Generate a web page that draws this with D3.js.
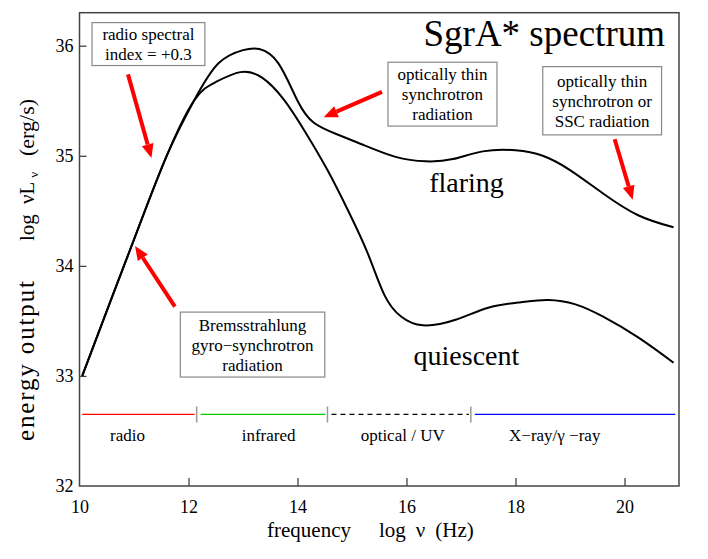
<!DOCTYPE html>
<html><head><meta charset="utf-8">
<script src="https://cdn.jsdelivr.net/npm/d3@7"></script>
<style>
html,body{margin:0;padding:0;background:#fff;}
svg{display:block;}
</style></head>
<body><svg id="chart" width="708" height="559" font-family="Liberation Serif, serif"></svg>
<script>
// ---- data ----
const xTicks = [10, 12, 14, 16, 18, 20];
const yTicks = [32, 33, 34, 35, 36];
const flaringFreq = [10.05, 10.6, 11.1, 11.6, 12.1, 12.55, 13.0, 13.3, 13.65, 14.0, 14.3, 14.7, 15.2, 15.8, 16.35, 16.85, 17.4, 18.0, 18.5, 19.0, 19.6, 20.25, 20.9];
const flaringLum  = [33.0, 33.72, 34.37, 35.0, 35.5, 35.84, 35.96, 35.97, 35.84, 35.5, 35.3, 35.2, 35.1, 34.99, 34.95, 34.97, 35.04, 35.05, 35.0, 34.87, 34.66, 34.46, 34.35];
const quiescentFreq = [10.05, 10.6, 11.1, 11.6, 12.1, 12.5, 12.95, 13.35, 13.75, 14.15, 14.55, 14.95, 15.3, 15.6, 15.9, 16.3, 16.9, 17.5, 18.1, 18.6, 19.1, 19.6, 20.25, 20.9];
const quiescentLum  = [33.0, 33.72, 34.37, 35.0, 35.5, 35.67, 35.76, 35.71, 35.51, 35.21, 34.87, 34.48, 34.1, 33.73, 33.54, 33.46, 33.51, 33.62, 33.67, 33.69, 33.65, 33.54, 33.35, 33.12];
const bandNames  = ["radio", "infrared", "optical / UV", "X\u2212ray/\u03b3 \u2212ray"];
const bandStart  = [10.05, 12.15, 14.55, 17.18];
const bandEnd    = [12.15, 14.55, 17.18, 20.93];
const bandLabelAt = [10.88, 13.47, 15.93, 18.72];
const bandColors = ["#ff0000", "#00cc00", "#000000", "#0000ff"];
const bandDashed = [false, false, true, false];
const bandLevel = 32.65;
const curveLabels = [{text: "flaring", x: 17.1, y: 34.67}, {text: "quiescent", x: 17.1, y: 33.1}];
const notes = [
  {lines: ["radio spectral", "index = +0.3"], box: [10.23, 36.21, 12.3, 35.82], from: [10.89, 35.74], to: [11.32, 34.98]},
  {lines: ["optically thin", "synchrotron", "radiation"], box: [15.66, 35.85, 17.66, 35.27], from: [15.55, 35.58], to: [14.48, 35.35]},
  {lines: ["optically thin", "synchrotron or", "SSC radiation"], box: [18.5, 35.81, 20.68, 35.19], from: [19.82, 35.15], to: [20.15, 34.6]},
  {lines: ["Bremsstrahlung", "gyro\u2212synchrotron", "radiation"], box: [11.85, 33.58, 14.5, 32.99], from: [11.75, 33.63], to: [11.02, 34.18]}
];

// ---- layout ----
const svg = d3.select("#chart");
const FONT = "Liberation Serif";
const L = 79.5, R = 679, T = 12.7, B = 486;
const x = d3.scaleLinear().domain([10, 21]).range([L, R]);
const y = d3.scaleLinear().domain([32, 36.3]).range([B, T]);
const axisColor = "#444";

// frame
svg.append("rect").attr("x", L).attr("y", T).attr("width", R - L).attr("height", B - T)
  .attr("fill", "none").attr("stroke", axisColor).attr("stroke-width", 1.5);

// axes (inside ticks)
const gx = svg.append("g").attr("transform", `translate(0,${B})`)
  .call(d3.axisBottom(x).tickValues(xTicks).tickSize(-8).tickPadding(14).tickFormat(d3.format("d")));
const gy = svg.append("g").attr("transform", `translate(${L},0)`)
  .call(d3.axisLeft(y).tickValues(yTicks).tickSize(-7).tickPadding(6).tickFormat(d3.format("d")));
[gx, gy].forEach(g => {
  g.attr("font-family", FONT);
  g.select(".domain").remove();
  g.selectAll(".tick line").attr("stroke", axisColor).attr("stroke-width", 1.3);
  g.selectAll(".tick text").attr("font-family", FONT).attr("font-size", 18).attr("fill", "#000");
});
gx.selectAll(".tick text").attr("dy", "0.71em");
gy.selectAll(".tick").filter(d => d === 32).select("line").remove();
gx.selectAll(".tick").filter(d => d === 10).select("line").remove();

function txt(xp, yp, s, size, anchor) {
  return svg.append("text").attr("x", xp).attr("y", yp).attr("font-family", FONT)
    .attr("font-size", size).attr("text-anchor", anchor || "start").attr("fill", "#000").text(s);
}

// curves
const line = d3.line().x(d => x(d[0])).y(d => y(d[1])).curve(d3.curveNatural);
svg.append("path").datum(flaringFreq.map((f, i) => [f, flaringLum[i]]))
  .attr("d", line).attr("fill", "none").attr("stroke", "#000").attr("stroke-width", 2);
svg.append("path").datum(quiescentFreq.map((f, i) => [f, quiescentLum[i]]))
  .attr("d", line).attr("fill", "none").attr("stroke", "#000").attr("stroke-width", 2);

// bands
const by = y(bandLevel);
bandNames.forEach((n, i) => {
  const x0 = x(bandStart[i]) + (i === 0 ? 0 : 4), x1 = x(bandEnd[i]) - (i === 3 ? 0 : 2);
  svg.append("line").attr("x1", x0).attr("x2", x1).attr("y1", by).attr("y2", by)
    .attr("stroke", bandColors[i]).attr("stroke-width", 1.2)
    .attr("stroke-dasharray", bandDashed[i] ? "5,4" : null);
  txt(x(bandLabelAt[i]), by + 27, n, 17, "middle");
  if (i < 3) {
    svg.append("line").attr("x1", x(bandEnd[i])).attr("x2", x(bandEnd[i]))
      .attr("y1", by - 8).attr("y2", by + 8).attr("stroke", "#999").attr("stroke-width", 1.5);
  }
});

// curve labels
curveLabels.forEach(c => txt(x(c.x), y(c.y), c.text, 28, "middle"));

// title
txt(665, 46, "SgrA* spectrum", 37, "end");

// annotations
notes.forEach(n => {
  const bx0 = x(n.box[0]), by0 = y(n.box[1]), bx1 = x(n.box[2]), by1 = y(n.box[3]);
  svg.append("rect").attr("x", bx0).attr("y", by0).attr("width", bx1 - bx0).attr("height", by1 - by0)
    .attr("fill", "#fff").attr("stroke", "#888").attr("stroke-width", 1.2);
  const cx = (bx0 + bx1) / 2;
  const lh = 20;
  const top = (by0 + by1) / 2 - (n.lines.length - 1) * lh / 2 + 6;
  n.lines.forEach((t, k) => txt(cx, top + k * lh, t, 17, "middle"));
  const fx = x(n.from[0]), fy = y(n.from[1]), tx = x(n.to[0]), ty = y(n.to[1]);
  const ang = Math.atan2(ty - fy, tx - fx);
  const hl = 14, hw = 6;
  const sx = tx - hl * Math.cos(ang), sy = ty - hl * Math.sin(ang);
  svg.append("line").attr("x1", fx).attr("y1", fy).attr("x2", sx).attr("y2", sy)
    .attr("stroke", "#ff0000").attr("stroke-width", 4);
  const px = -Math.sin(ang), py = Math.cos(ang);
  svg.append("path").attr("d", `M${tx},${ty}L${sx + hw * px},${sy + hw * py}L${sx - hw * px},${sy - hw * py}Z`)
    .attr("fill", "#ff0000");
});

// axis titles
txt(267, 537, "frequency", 21);
const xl = txt(379, 537, "", 21);
xl.append("tspan").text("log");
xl.append("tspan").attr("dx", 10).text("\u03bd");
xl.append("tspan").attr("dx", 10).text("(Hz)");

function yText(t, yStart, size, len) {
  const el = svg.append("text").attr("transform", `translate(34,${yStart}) rotate(-90)`)
    .attr("font-family", FONT).attr("font-size", size).text(t);
  if (len) el.attr("textLength", len).attr("lengthAdjust", "spacing");
  return el;
}
yText("energy output", 441, 25, 160);
yText("log", 241, 21);
const yl = svg.append("text").attr("transform", `translate(34,204) rotate(-90)`)
  .attr("font-family", FONT).attr("font-size", 21);
yl.append("tspan").text("\u03bdL");
yl.append("tspan").attr("dx", 4).attr("dy", 4).attr("font-size", 13).text("\u03bd");
yText("(erg/s)", 156, 22);
</script></body></html>
